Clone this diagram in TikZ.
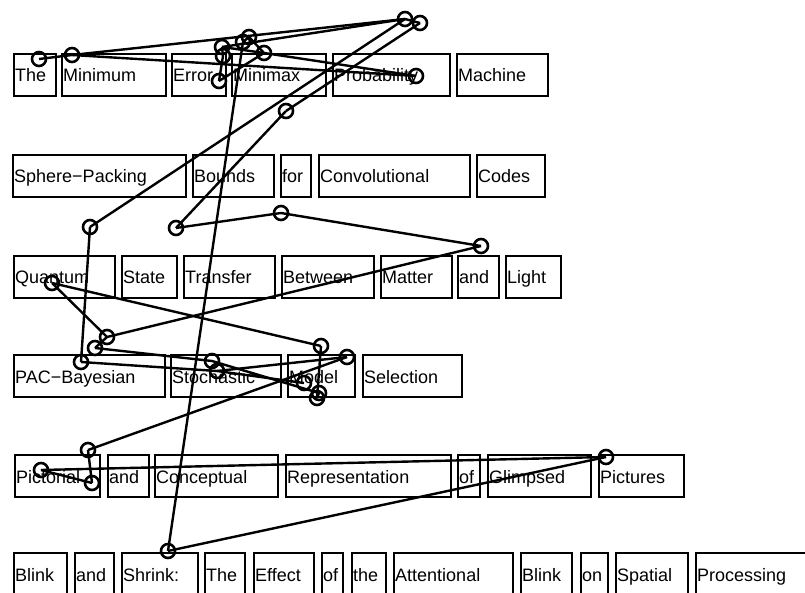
\documentclass[tikz,border=0pt]{standalone}
\usepackage{fontspec}
\setmainfont{Liberation Sans}
\newcommand\wordbox[5]{%
  \node[wbox, minimum width={#3-#2}] (#1) at (#2,#4) {};
  \node[wtext] (#1t) at ({#2+1},{#4+28}) {#5};
}
\begin{document}
\begin{tikzpicture}[x=1pt,y=-1pt,
  wbox/.style={draw, line width=1.4pt, minimum height=42pt, inner sep=0pt, outer sep=0pt, anchor=north west},
  wtext/.style={anchor=base west, inner sep=0pt, font=\fontsize{18}{20}\selectfont},
  scan/.style={line width=2.4pt},
  fix/.style={line width=2.6pt}]
\useasboundingbox (0,0) rectangle (805,593);
\clip (0,0) rectangle (805,593);
% row 1
\wordbox{a1}{14}{56}{54}{The}
\wordbox{a2}{62}{166}{54}{Minimum}
\wordbox{a3}{172}{226}{54}{Error}
\wordbox{a4}{232}{326}{54}{Minimax}
\wordbox{a5}{333}{450}{54}{Probability}
\wordbox{a6}{457}{548}{54}{Machine}
% row 2
\wordbox{b1}{13}{186}{155}{Sphere−Packing}
\wordbox{b2}{193}{274}{155}{Bounds}
\wordbox{b3}{281}{311}{155}{for}
\wordbox{b4}{319}{470}{155}{Convolutional}
\wordbox{b5}{477}{545}{155}{Codes}
% row 3
\wordbox{d1}{14}{115}{256}{Quantum}
\wordbox{d2}{122}{177}{256}{State}
\wordbox{d3}{184}{275}{256}{Transfer}
\wordbox{d4}{282}{374}{256}{Between}
\wordbox{d5}{381}{452}{256}{Matter}
\wordbox{d6}{458}{499}{256}{and}
\wordbox{d7}{506}{561}{256}{Light}
% row 4
\wordbox{e1}{14}{165}{355}{PAC−Bayesian}
\wordbox{e2}{171}{281}{355}{Stochastic}
\wordbox{e3}{288}{355}{355}{Model}
\wordbox{e4}{363}{462}{355}{Selection}
% row 5
\wordbox{f1}{15}{100}{455}{Pictorial}
\wordbox{f2}{108}{149}{455}{and}
\wordbox{f3}{155}{278}{455}{Conceptual}
\wordbox{f4}{286}{451}{455}{Representation}
\wordbox{f5}{458}{480}{455}{of}
\wordbox{f6}{488}{591}{455}{Glimpsed}
\wordbox{f7}{599}{684}{455}{Pictures}
% row 6
\wordbox{g1}{14}{67}{553}{Blink}
\wordbox{g2}{75}{114}{553}{and}
\wordbox{g3}{122}{198}{553}{Shrink:}
\wordbox{g4}{205}{245}{553}{The}
\wordbox{g5}{254}{314}{553}{Effect}
\wordbox{g6}{322}{343}{553}{of}
\wordbox{g7}{352}{386}{553}{the}
\wordbox{g8}{394}{513}{553}{Attentional}
\wordbox{g9}{521}{572}{553}{Blink}
\wordbox{g10}{581}{608}{553}{on}
\wordbox{g11}{616}{688}{553}{Spatial}
\wordbox{g12}{696}{830}{553}{Processing}
% fixation points
\coordinate (c1) at (39,59);
\coordinate (c2) at (72,55);
\coordinate (c3) at (222,47);
\coordinate (c4) at (223,56);
\coordinate (c5) at (219,81);
\coordinate (c6) at (243,42);
\coordinate (c7) at (249,37);
\coordinate (c8) at (264,53);
\coordinate (c9) at (405,19);
\coordinate (c10) at (420,23);
\coordinate (c11) at (416,76);
\coordinate (c12) at (286,111);
\coordinate (c13) at (90,227);
\coordinate (c14) at (176,228);
\coordinate (c15) at (281,213);
\coordinate (c16) at (481,246);
\coordinate (c17) at (52,283);
\coordinate (c18) at (107,337);
\coordinate (c19) at (95,348);
\coordinate (c20) at (81,362);
\coordinate (c21) at (321,346);
\coordinate (c22) at (347,357);
\coordinate (c23) at (212,361);
\coordinate (c24) at (217,371);
\coordinate (c25) at (304,383);
\coordinate (c26) at (319,393);
\coordinate (c27) at (317,398);
\coordinate (c28) at (88,450);
\coordinate (c29) at (41,470);
\coordinate (c30) at (92,483);
\coordinate (c31) at (606,457);
\coordinate (c32) at (168,551);
\foreach \p/\q in {1/2, 2/9, 2/11, 3/9, 3/4, 4/5, 5/8, 8/11, 3/8, 6/7, 7/8,
  9/10, 9/13, 10/12, 12/14, 14/15, 15/16, 16/18, 18/17, 18/19, 17/21, 13/20,
  19/23, 20/24, 21/27, 22/24, 23/26, 24/25, 26/27, 22/28, 28/30, 30/29,
  29/31, 31/32, 32/6}
  \draw[scan] (c\p) -- (c\q);
\foreach \i in {1,...,32}
  \draw[fix] (c\i) circle[radius=7pt];
\end{tikzpicture}
\end{document}
